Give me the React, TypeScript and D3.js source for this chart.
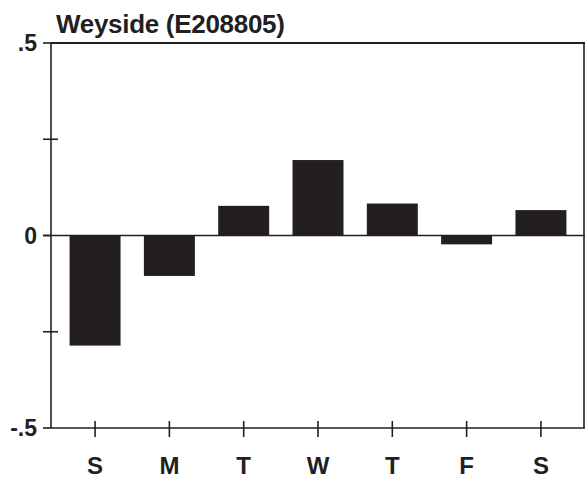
import React from "react";
import * as d3 from "d3";

const title = "Weyside (E208805)";
const days = ["S", "M", "T", "W", "T", "F", "S"];
const dayKeys = ["S1", "M", "T1", "W", "T2", "F", "S2"];
const values = [-0.286, -0.105, 0.077, 0.196, 0.083, -0.023, 0.066];
const majorTicks = [0.5, 0, -0.5];
const majorTickLabels = [".5", "0", "-.5"];
const minorTicks = [0.25, -0.25];

const W = 586;
const H = 479;
const left = 51;
const right = 585;
const top = 43;
const bottom = 428;
const ink = "#231f20";
const font = "'Liberation Sans', Arial, Helvetica, sans-serif";

export default function App() {
  const x = d3
    .scaleBand<string>()
    .domain(dayKeys)
    .range([left, right])
    .paddingInner(0.314)
    .paddingOuter(0.25);
  const y = d3.scaleLinear().domain([-0.5, 0.5]).range([bottom, top]);
  const y0 = y(0);

  return (
    <svg
      width={W}
      height={H}
      style={{ position: "absolute", left: 0, top: 0, background: "#fff" }}
    >
      <text
        x={56}
        y={33}
        fontFamily={font}
        fontWeight="bold"
        fontSize={26}
        letterSpacing={-0.3}
        fill={ink}
      >
        {title}
      </text>

      {/* bars */}
      {values.map((v, i) => (
        <rect
          key={dayKeys[i]}
          x={x(dayKeys[i])}
          width={x.bandwidth()}
          y={Math.min(y(v), y0)}
          height={Math.abs(y(v) - y0)}
          fill={ink}
        />
      ))}

      {/* frame */}
      <line x1={left} x2={right} y1={top} y2={top} stroke={ink} strokeWidth={2} />
      <line x1={left} x2={left} y1={top} y2={bottom} stroke={ink} strokeWidth={1.6} />
      <line x1={right - 1} x2={right - 1} y1={top} y2={bottom} stroke={ink} strokeWidth={1.6} />
      <line x1={left} x2={right} y1={bottom} y2={bottom} stroke={ink} strokeWidth={1.6} />

      {/* zero line */}
      <line x1={left - 8} x2={right} y1={y0} y2={y0} stroke={ink} strokeWidth={1.6} />

      {/* y major ticks + labels */}
      {majorTicks.map((t, i) => (
        <g key={"mj" + i}>
          <line x1={left - 8} x2={left} y1={y(t)} y2={y(t)} stroke={ink} strokeWidth={1.6} />
          <text
            x={37}
            y={y(t)}
            dy="0.36em"
            textAnchor="end"
            fontFamily={font}
            fontWeight="bold"
            fontSize={23}
            fill={ink}
          >
            {majorTickLabels[i]}
          </text>
        </g>
      ))}
      {minorTicks.map((t, i) => (
        <line
          key={"mn" + i}
          x1={left - 8}
          x2={left + 7}
          y1={y(t)}
          y2={y(t)}
          stroke={ink}
          strokeWidth={1.6}
        />
      ))}

      {/* x ticks + labels */}
      {dayKeys.map((k, i) => {
        const cx = (x(k) as number) + x.bandwidth() / 2;
        return (
          <g key={"x" + k}>
            <line x1={cx} x2={cx} y1={bottom - 7} y2={bottom + 9} stroke={ink} strokeWidth={1.6} />
            <text
              x={cx}
              y={474}
              textAnchor="middle"
              fontFamily={font}
              fontWeight="bold"
              fontSize={24}
              fill={ink}
            >
              {days[i]}
            </text>
          </g>
        );
      })}
    </svg>
  );
}
